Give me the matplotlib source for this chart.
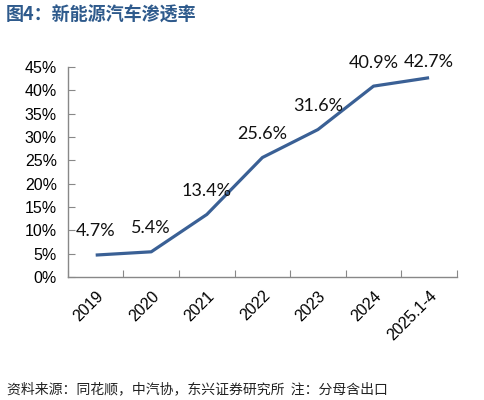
import matplotlib.pyplot as plt
from matplotlib.ticker import MultipleLocator, FuncFormatter

plt.rcParams['font.family'] = ['Liberation Sans', 'Noto Sans CJK SC', 'DejaVu Sans']

categories = ['2019', '2020', '2021', '2022', '2023', '2024', '2025.1-4']
penetration = [4.7, 5.4, 13.4, 25.6, 31.6, 40.9, 42.7]
value_labels = ['4.7%', '5.4%', '13.4%', '25.6%', '31.6%', '40.9%', '42.7%']

title = '图4：新能源汽车渗透率'
source = '资料来源：同花顺，中汽协，东兴证券研究所  注：分母含出口'

fig = plt.figure(figsize=(4.85, 4.0), dpi=100)
ax = fig.add_axes([0.140, 0.3075, 0.802, 0.525])

x = range(len(categories))
ax.plot(x, penetration, color='#3A6095', linewidth=2.3, solid_capstyle='butt')

for i, (v, lab) in enumerate(zip(penetration, value_labels)):
    # last label sits lower, next to the 40.9% one
    dy = 11 if i == len(penetration) - 1 else 17
    ax.annotate(lab, (i, v), xytext=(0, dy), textcoords='offset points',
                ha='center', va='center', fontsize=13,
                family=['Lato', 'DejaVu Sans'], color='#111111')

ax.set_xlim(-0.5, len(categories) - 0.5)
ax.set_ylim(0, 45)
ax.yaxis.set_major_locator(MultipleLocator(5))
ax.yaxis.set_major_formatter(FuncFormatter(lambda v, p: '{0:.0f}%'.format(v)))

# category boundaries as ticks, labels at centers
ax.set_xticks([i - 0.5 for i in range(len(categories) + 1)])
ax.set_xticklabels([])
ax.set_xticks(list(x), minor=True)
ax.set_xticklabels(categories, minor=True, rotation=45, ha='right',
                   rotation_mode='anchor', fontsize=11.5)
ax.tick_params(axis='x', which='minor', length=0, pad=8)
ax.tick_params(axis='x', which='major', direction='in', length=5, color='#888888')
ax.tick_params(axis='y', direction='in', length=5, color='#888888', labelsize=11.5, pad=8)

for s in ['top', 'right']:
    ax.spines[s].set_visible(False)
for s in ['left', 'bottom']:
    ax.spines[s].set_color('#888888')
    ax.spines[s].set_linewidth(1.0)

fig.text(0.012, 0.962, title, fontsize=13, fontweight='bold', color='#2E5A8C',
         family=['Noto Sans CJK SC', 'DejaVu Sans'], va='center')
fig.text(0.014, 0.027, source, fontsize=10, color='#222222', style='italic',
         family=['Noto Sans CJK SC', 'DejaVu Sans'], va='center')

fig.savefig('out.png', dpi=100)
